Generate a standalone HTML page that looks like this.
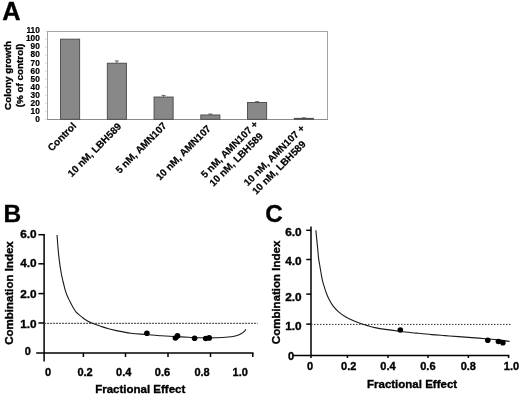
<!DOCTYPE html>
<html><head><meta charset="utf-8"><style>
html,body{margin:0;padding:0;background:#fff;width:520px;height:395px;overflow:hidden}
svg{display:block;filter:grayscale(1)}
text{stroke:#000;stroke-width:0.35px}
</style></head><body>
<svg width="520" height="395" viewBox="0 0 520 395">
<rect width="520" height="395" fill="#fff"/>
<text x="2.3" y="19.6" font-size="25.3" font-family="&quot;Liberation Sans&quot;, sans-serif" font-weight="bold">A</text>
<rect x="47.5" y="31.5" width="280" height="88" fill="none" stroke="#a4a4a4" stroke-width="1"/>
<line x1="44.5" y1="119.30" x2="47" y2="119.30" stroke="#d8d8d8" stroke-width="0.8"/>
<text x="39.8" y="121.90" font-size="8.3" text-anchor="end" style="stroke-width:0.2px" font-family="&quot;Liberation Sans&quot;, sans-serif" font-weight="bold">0</text>
<line x1="44.5" y1="111.28" x2="47" y2="111.28" stroke="#d8d8d8" stroke-width="0.8"/>
<text x="39.8" y="113.84" font-size="8.3" text-anchor="end" style="stroke-width:0.2px" font-family="&quot;Liberation Sans&quot;, sans-serif" font-weight="bold">10</text>
<line x1="44.5" y1="103.27" x2="47" y2="103.27" stroke="#d8d8d8" stroke-width="0.8"/>
<text x="39.8" y="105.79" font-size="8.3" text-anchor="end" style="stroke-width:0.2px" font-family="&quot;Liberation Sans&quot;, sans-serif" font-weight="bold">20</text>
<line x1="44.5" y1="95.25" x2="47" y2="95.25" stroke="#d8d8d8" stroke-width="0.8"/>
<text x="39.8" y="97.73" font-size="8.3" text-anchor="end" style="stroke-width:0.2px" font-family="&quot;Liberation Sans&quot;, sans-serif" font-weight="bold">30</text>
<line x1="44.5" y1="87.24" x2="47" y2="87.24" stroke="#d8d8d8" stroke-width="0.8"/>
<text x="39.8" y="89.68" font-size="8.3" text-anchor="end" style="stroke-width:0.2px" font-family="&quot;Liberation Sans&quot;, sans-serif" font-weight="bold">40</text>
<line x1="44.5" y1="79.22" x2="47" y2="79.22" stroke="#d8d8d8" stroke-width="0.8"/>
<text x="39.8" y="81.62" font-size="8.3" text-anchor="end" style="stroke-width:0.2px" font-family="&quot;Liberation Sans&quot;, sans-serif" font-weight="bold">50</text>
<line x1="44.5" y1="71.21" x2="47" y2="71.21" stroke="#d8d8d8" stroke-width="0.8"/>
<text x="39.8" y="73.57" font-size="8.3" text-anchor="end" style="stroke-width:0.2px" font-family="&quot;Liberation Sans&quot;, sans-serif" font-weight="bold">60</text>
<line x1="44.5" y1="63.20" x2="47" y2="63.20" stroke="#d8d8d8" stroke-width="0.8"/>
<text x="39.8" y="65.52" font-size="8.3" text-anchor="end" style="stroke-width:0.2px" font-family="&quot;Liberation Sans&quot;, sans-serif" font-weight="bold">70</text>
<line x1="44.5" y1="55.18" x2="47" y2="55.18" stroke="#d8d8d8" stroke-width="0.8"/>
<text x="39.8" y="57.46" font-size="8.3" text-anchor="end" style="stroke-width:0.2px" font-family="&quot;Liberation Sans&quot;, sans-serif" font-weight="bold">80</text>
<line x1="44.5" y1="47.16" x2="47" y2="47.16" stroke="#d8d8d8" stroke-width="0.8"/>
<text x="39.8" y="49.40" font-size="8.3" text-anchor="end" style="stroke-width:0.2px" font-family="&quot;Liberation Sans&quot;, sans-serif" font-weight="bold">90</text>
<line x1="44.5" y1="39.15" x2="47" y2="39.15" stroke="#d8d8d8" stroke-width="0.8"/>
<text x="39.8" y="41.35" font-size="8.3" text-anchor="end" style="stroke-width:0.2px" font-family="&quot;Liberation Sans&quot;, sans-serif" font-weight="bold">100</text>
<line x1="44.5" y1="31.14" x2="47" y2="31.14" stroke="#d8d8d8" stroke-width="0.8"/>
<text x="39.8" y="33.29" font-size="8.3" text-anchor="end" style="stroke-width:0.2px" font-family="&quot;Liberation Sans&quot;, sans-serif" font-weight="bold">110</text>
<line x1="47" y1="119.5" x2="328" y2="119.5" stroke="#8c8c8c" stroke-width="1"/>
<rect x="60.55" y="39.15" width="19.1" height="80.15" fill="#888" stroke="#484848" stroke-width="0.9"/>
<rect x="107.30" y="63.20" width="19.1" height="56.10" fill="#888" stroke="#484848" stroke-width="0.9"/>
<line x1="116.85" y1="63.20" x2="116.85" y2="60.95" stroke="#444" stroke-width="0.8"/>
<line x1="114.85" y1="60.95" x2="118.85" y2="60.95" stroke="#444" stroke-width="0.8"/>
<rect x="154.05" y="97.02" width="19.1" height="22.28" fill="#888" stroke="#484848" stroke-width="0.9"/>
<line x1="163.60" y1="97.02" x2="163.60" y2="95.42" stroke="#444" stroke-width="0.8"/>
<line x1="161.60" y1="95.42" x2="165.60" y2="95.42" stroke="#444" stroke-width="0.8"/>
<rect x="200.80" y="114.97" width="19.1" height="4.33" fill="#888" stroke="#484848" stroke-width="0.9"/>
<line x1="210.35" y1="114.97" x2="210.35" y2="114.01" stroke="#444" stroke-width="0.8"/>
<line x1="208.35" y1="114.01" x2="212.35" y2="114.01" stroke="#444" stroke-width="0.8"/>
<rect x="247.55" y="102.47" width="19.1" height="16.83" fill="#888" stroke="#484848" stroke-width="0.9"/>
<line x1="257.10" y1="102.47" x2="257.10" y2="101.67" stroke="#444" stroke-width="0.8"/>
<line x1="255.10" y1="101.67" x2="259.10" y2="101.67" stroke="#444" stroke-width="0.8"/>
<rect x="294.30" y="118.34" width="19.1" height="0.96" fill="#888" stroke="#484848" stroke-width="0.9"/>
<line x1="303.85" y1="118.34" x2="303.85" y2="117.86" stroke="#444" stroke-width="0.8"/>
<line x1="301.85" y1="117.86" x2="305.85" y2="117.86" stroke="#444" stroke-width="0.8"/>
<text transform="translate(11,75.5) rotate(-90)" font-size="9.85" text-anchor="middle" font-family="&quot;Liberation Sans&quot;, sans-serif" font-weight="bold">Colony growth</text>
<text transform="translate(22.5,75.5) rotate(-90)" font-size="9.85" text-anchor="middle" font-family="&quot;Liberation Sans&quot;, sans-serif" font-weight="bold">(% of control)</text>
<text transform="translate(76.90,126.60) rotate(-45)" font-size="10" text-anchor="end" style="stroke-width:0.2px" font-family="&quot;Liberation Sans&quot;, sans-serif" font-weight="bold">Control</text>
<text transform="translate(122.00,127.15) rotate(-45)" font-size="10" text-anchor="end" style="stroke-width:0.2px" font-family="&quot;Liberation Sans&quot;, sans-serif" font-weight="bold">10 nM, LBH589</text>
<text transform="translate(167.30,126.40) rotate(-45)" font-size="10" text-anchor="end" style="stroke-width:0.2px" font-family="&quot;Liberation Sans&quot;, sans-serif" font-weight="bold">5 nM, AMN107</text>
<text transform="translate(211.50,129.20) rotate(-45)" font-size="10" text-anchor="end" style="stroke-width:0.2px" font-family="&quot;Liberation Sans&quot;, sans-serif" font-weight="bold">10 nM, AMN107</text>
<text transform="translate(258.70,124.80) rotate(-45)" font-size="10" style="stroke-width:0.2px" font-family="&quot;Liberation Sans&quot;, sans-serif" font-weight="bold"><tspan x="-76.04" y="0">5 nM, AMN107 +</tspan><tspan x="-76.04" y="12">10 nM, LBH589</tspan></text>
<text transform="translate(305.40,128.90) rotate(-45)" font-size="10" style="stroke-width:0.2px" font-family="&quot;Liberation Sans&quot;, sans-serif" font-weight="bold"><tspan x="-81.60" y="0">10 nM, AMN107 +</tspan><tspan x="-81.60" y="12">10 nM, LBH589</tspan></text>
<text x="3.6" y="222.1" font-size="24.5" font-family="&quot;Liberation Sans&quot;, sans-serif" font-weight="bold">B</text>
<line x1="44.1" y1="234" x2="44.1" y2="361.5" stroke="#000" stroke-width="1.5"/>
<line x1="36.2" y1="353.1" x2="253.5" y2="353.1" stroke="#000" stroke-width="1.5"/>
<line x1="38.4" y1="234.7" x2="44.1" y2="234.7" stroke="#000" stroke-width="1.5"/>
<text x="36.6" y="237.70" font-size="11" text-anchor="end" textLength="16.4" lengthAdjust="spacingAndGlyphs" font-family="&quot;Liberation Sans&quot;, sans-serif" font-weight="bold">6.0</text>
<line x1="38.4" y1="263.8" x2="44.1" y2="263.8" stroke="#000" stroke-width="1.5"/>
<text x="36.6" y="267.40" font-size="11" text-anchor="end" textLength="16.4" lengthAdjust="spacingAndGlyphs" font-family="&quot;Liberation Sans&quot;, sans-serif" font-weight="bold">4.0</text>
<line x1="38.4" y1="293.6" x2="44.1" y2="293.6" stroke="#000" stroke-width="1.5"/>
<text x="36.6" y="297.70" font-size="11" text-anchor="end" textLength="16.4" lengthAdjust="spacingAndGlyphs" font-family="&quot;Liberation Sans&quot;, sans-serif" font-weight="bold">2.0</text>
<line x1="38.4" y1="323.0" x2="44.1" y2="323.0" stroke="#000" stroke-width="1.5"/>
<text x="36.6" y="327.65" font-size="11" text-anchor="end" textLength="16.4" lengthAdjust="spacingAndGlyphs" font-family="&quot;Liberation Sans&quot;, sans-serif" font-weight="bold">1.0</text>
<text x="30.8" y="354.6" font-size="11" text-anchor="end" font-family="&quot;Liberation Sans&quot;, sans-serif" font-weight="bold">0</text>
<line x1="83.4" y1="353.1" x2="83.4" y2="357.0" stroke="#000" stroke-width="1.5"/>
<line x1="125.5" y1="353.1" x2="125.5" y2="357.0" stroke="#000" stroke-width="1.5"/>
<line x1="168.0" y1="353.1" x2="168.0" y2="357.0" stroke="#000" stroke-width="1.5"/>
<line x1="210.5" y1="353.1" x2="210.5" y2="357.0" stroke="#000" stroke-width="1.5"/>
<line x1="252.8" y1="353.1" x2="252.8" y2="357.0" stroke="#000" stroke-width="1.5"/>
<text x="48" y="375.8" font-size="11" text-anchor="middle" font-family="&quot;Liberation Sans&quot;, sans-serif" font-weight="bold">0</text>
<text x="85.1" y="375.8" font-size="11" text-anchor="middle" font-family="&quot;Liberation Sans&quot;, sans-serif" font-weight="bold">0.2</text>
<text x="123.7" y="375.8" font-size="11" text-anchor="middle" font-family="&quot;Liberation Sans&quot;, sans-serif" font-weight="bold">0.4</text>
<text x="162.5" y="375.8" font-size="11" text-anchor="middle" font-family="&quot;Liberation Sans&quot;, sans-serif" font-weight="bold">0.6</text>
<text x="202.1" y="375.8" font-size="11" text-anchor="middle" font-family="&quot;Liberation Sans&quot;, sans-serif" font-weight="bold">0.8</text>
<text x="240.2" y="375.8" font-size="11" text-anchor="middle" font-family="&quot;Liberation Sans&quot;, sans-serif" font-weight="bold">1.0</text>
<text x="95.2" y="392.5" font-size="11.5" font-family="&quot;Liberation Sans&quot;, sans-serif" font-weight="bold">Fractional Effect</text>
<text transform="translate(13.4,293) rotate(-90)" font-size="11.5" text-anchor="middle" font-family="&quot;Liberation Sans&quot;, sans-serif" font-weight="bold">Combination Index</text>
<line x1="44.1" y1="323.3" x2="257.7" y2="323.3" stroke="#333" stroke-width="1" stroke-dasharray="2,1"/>
<path d="M57.00,235.00 C57.12,236.48 57.43,240.67 57.70,243.90 C57.97,247.13 58.27,251.15 58.60,254.40 C58.93,257.65 59.28,260.38 59.70,263.40 C60.12,266.42 60.67,270.02 61.10,272.50 C61.53,274.98 61.87,276.37 62.30,278.30 C62.73,280.23 63.22,282.12 63.70,284.10 C64.18,286.08 64.63,288.30 65.20,290.20 C65.77,292.10 66.37,293.73 67.10,295.50 C67.83,297.27 68.78,299.15 69.60,300.80 C70.42,302.45 71.26,304.03 72.00,305.40 C72.74,306.77 73.40,307.93 74.05,309.00 C74.70,310.07 75.23,310.98 75.90,311.80 C76.58,312.62 77.23,313.13 78.10,313.90 C78.97,314.67 80.00,315.52 81.10,316.40 C82.20,317.28 83.47,318.33 84.70,319.20 C85.93,320.07 87.23,320.92 88.50,321.60 C89.77,322.28 90.25,322.52 92.30,323.30 C94.35,324.08 98.10,325.38 100.80,326.30 C103.50,327.22 106.07,328.12 108.50,328.80 C110.93,329.48 111.68,329.67 115.40,330.40 C119.12,331.13 125.67,332.52 130.80,333.20 C135.93,333.88 141.08,334.07 146.20,334.50 C151.32,334.93 156.90,335.47 161.50,335.80 C166.10,336.13 169.30,336.25 173.80,336.50 C178.30,336.75 184.00,337.08 188.50,337.30 C193.00,337.52 196.18,337.72 200.80,337.80 C205.42,337.88 211.58,337.93 216.20,337.80 C220.82,337.67 225.17,337.33 228.50,337.00 C231.83,336.67 234.03,336.38 236.20,335.80 C238.37,335.22 240.10,334.27 241.50,333.50 C242.90,332.73 243.87,331.92 244.60,331.20 C245.33,330.48 245.68,329.53 245.90,329.20" fill="none" stroke="#1a1a1a" stroke-width="1.1"/>
<circle cx="146.9" cy="333.3" r="2.8" fill="#000"/>
<circle cx="175.4" cy="338.0" r="2.8" fill="#000"/>
<circle cx="177.5" cy="335.9" r="2.8" fill="#000"/>
<circle cx="194.6" cy="338.3" r="2.8" fill="#000"/>
<circle cx="205.7" cy="338.5" r="2.8" fill="#000"/>
<circle cx="209.2" cy="337.9" r="2.8" fill="#000"/>
<text x="265.2" y="222.2" font-size="24.3" font-family="&quot;Liberation Sans&quot;, sans-serif" font-weight="bold">C</text>
<line x1="311" y1="226.5" x2="311" y2="358" stroke="#000" stroke-width="1.5"/>
<line x1="293" y1="355.5" x2="509.3" y2="355.5" stroke="#000" stroke-width="1.5"/>
<line x1="306.3" y1="230.3" x2="311" y2="230.3" stroke="#000" stroke-width="1.5"/>
<text x="301.6" y="236.45" font-size="11" text-anchor="end" textLength="16.4" lengthAdjust="spacingAndGlyphs" font-family="&quot;Liberation Sans&quot;, sans-serif" font-weight="bold">6.0</text>
<line x1="306.3" y1="259.5" x2="311" y2="259.5" stroke="#000" stroke-width="1.5"/>
<text x="301.6" y="265.15" font-size="11" text-anchor="end" textLength="16.4" lengthAdjust="spacingAndGlyphs" font-family="&quot;Liberation Sans&quot;, sans-serif" font-weight="bold">4.0</text>
<line x1="306.3" y1="294.1" x2="311" y2="294.1" stroke="#000" stroke-width="1.5"/>
<text x="301.6" y="300.65" font-size="11" text-anchor="end" textLength="16.4" lengthAdjust="spacingAndGlyphs" font-family="&quot;Liberation Sans&quot;, sans-serif" font-weight="bold">2.0</text>
<line x1="306.3" y1="324.1" x2="311" y2="324.1" stroke="#000" stroke-width="1.5"/>
<text x="301.6" y="330.35" font-size="11" text-anchor="end" textLength="16.4" lengthAdjust="spacingAndGlyphs" font-family="&quot;Liberation Sans&quot;, sans-serif" font-weight="bold">1.0</text>
<text x="294.2" y="360" font-size="11" text-anchor="end" font-family="&quot;Liberation Sans&quot;, sans-serif" font-weight="bold">0</text>
<line x1="347.4" y1="355.5" x2="347.4" y2="358" stroke="#000" stroke-width="1.5"/>
<line x1="388" y1="355.5" x2="388" y2="358" stroke="#000" stroke-width="1.5"/>
<line x1="428" y1="355.5" x2="428" y2="358" stroke="#000" stroke-width="1.5"/>
<line x1="468.4" y1="355.5" x2="468.4" y2="358" stroke="#000" stroke-width="1.5"/>
<line x1="508.6" y1="355.5" x2="508.6" y2="358" stroke="#000" stroke-width="1.5"/>
<text x="310" y="369.5" font-size="11" text-anchor="middle" font-family="&quot;Liberation Sans&quot;, sans-serif" font-weight="bold">0</text>
<text x="348.7" y="369.5" font-size="11" text-anchor="middle" font-family="&quot;Liberation Sans&quot;, sans-serif" font-weight="bold">0.2</text>
<text x="388" y="369.5" font-size="11" text-anchor="middle" font-family="&quot;Liberation Sans&quot;, sans-serif" font-weight="bold">0.4</text>
<text x="427.9" y="369.5" font-size="11" text-anchor="middle" font-family="&quot;Liberation Sans&quot;, sans-serif" font-weight="bold">0.6</text>
<text x="468.3" y="369.5" font-size="11" text-anchor="middle" font-family="&quot;Liberation Sans&quot;, sans-serif" font-weight="bold">0.8</text>
<text x="511.5" y="369.5" font-size="11" text-anchor="middle" font-family="&quot;Liberation Sans&quot;, sans-serif" font-weight="bold">1.0</text>
<text x="367" y="388.3" font-size="11.5" font-family="&quot;Liberation Sans&quot;, sans-serif" font-weight="bold">Fractional Effect</text>
<text transform="translate(279.5,292.4) rotate(-90)" font-size="11.5" text-anchor="middle" font-family="&quot;Liberation Sans&quot;, sans-serif" font-weight="bold">Combination Index</text>
<line x1="311" y1="324.4" x2="510.8" y2="324.4" stroke="#333" stroke-width="1" stroke-dasharray="1.5,1.5"/>
<path d="M315.85,230.30 C315.99,231.73 316.39,235.83 316.70,238.90 C317.01,241.97 317.38,245.45 317.70,248.70 C318.02,251.95 318.22,255.38 318.60,258.40 C318.98,261.42 319.53,264.02 320.00,266.80 C320.47,269.58 320.97,272.72 321.40,275.10 C321.83,277.48 322.10,279.08 322.60,281.10 C323.10,283.12 323.77,285.18 324.40,287.20 C325.03,289.22 325.57,291.05 326.40,293.20 C327.23,295.35 328.27,297.93 329.40,300.10 C330.53,302.27 331.67,304.23 333.20,306.20 C334.73,308.17 336.57,310.13 338.60,311.90 C340.63,313.67 343.00,315.35 345.40,316.80 C347.80,318.25 350.47,319.47 353.00,320.60 C355.53,321.73 358.07,322.72 360.60,323.60 C363.13,324.48 365.80,325.23 368.20,325.90 C370.60,326.57 372.13,327.02 375.00,327.60 C377.87,328.18 381.10,328.75 385.40,329.40 C389.70,330.05 395.67,330.88 400.80,331.50 C405.93,332.12 411.08,332.58 416.20,333.10 C421.32,333.62 426.70,334.18 431.50,334.60 C436.30,335.02 440.50,335.27 445.00,335.60 C449.50,335.93 454.02,336.27 458.50,336.60 C462.98,336.93 467.42,337.25 471.90,337.60 C476.38,337.95 480.92,338.32 485.40,338.70 C489.88,339.08 494.77,339.45 498.80,339.90 C502.83,340.35 507.80,341.15 509.60,341.40" fill="none" stroke="#1a1a1a" stroke-width="1.1"/>
<circle cx="400.3" cy="330" r="2.8" fill="#000"/>
<circle cx="487.8" cy="340.3" r="2.8" fill="#000"/>
<circle cx="498.4" cy="341.5" r="2.8" fill="#000"/>
<circle cx="502.9" cy="342.8" r="2.8" fill="#000"/>
</svg>
</body></html>
